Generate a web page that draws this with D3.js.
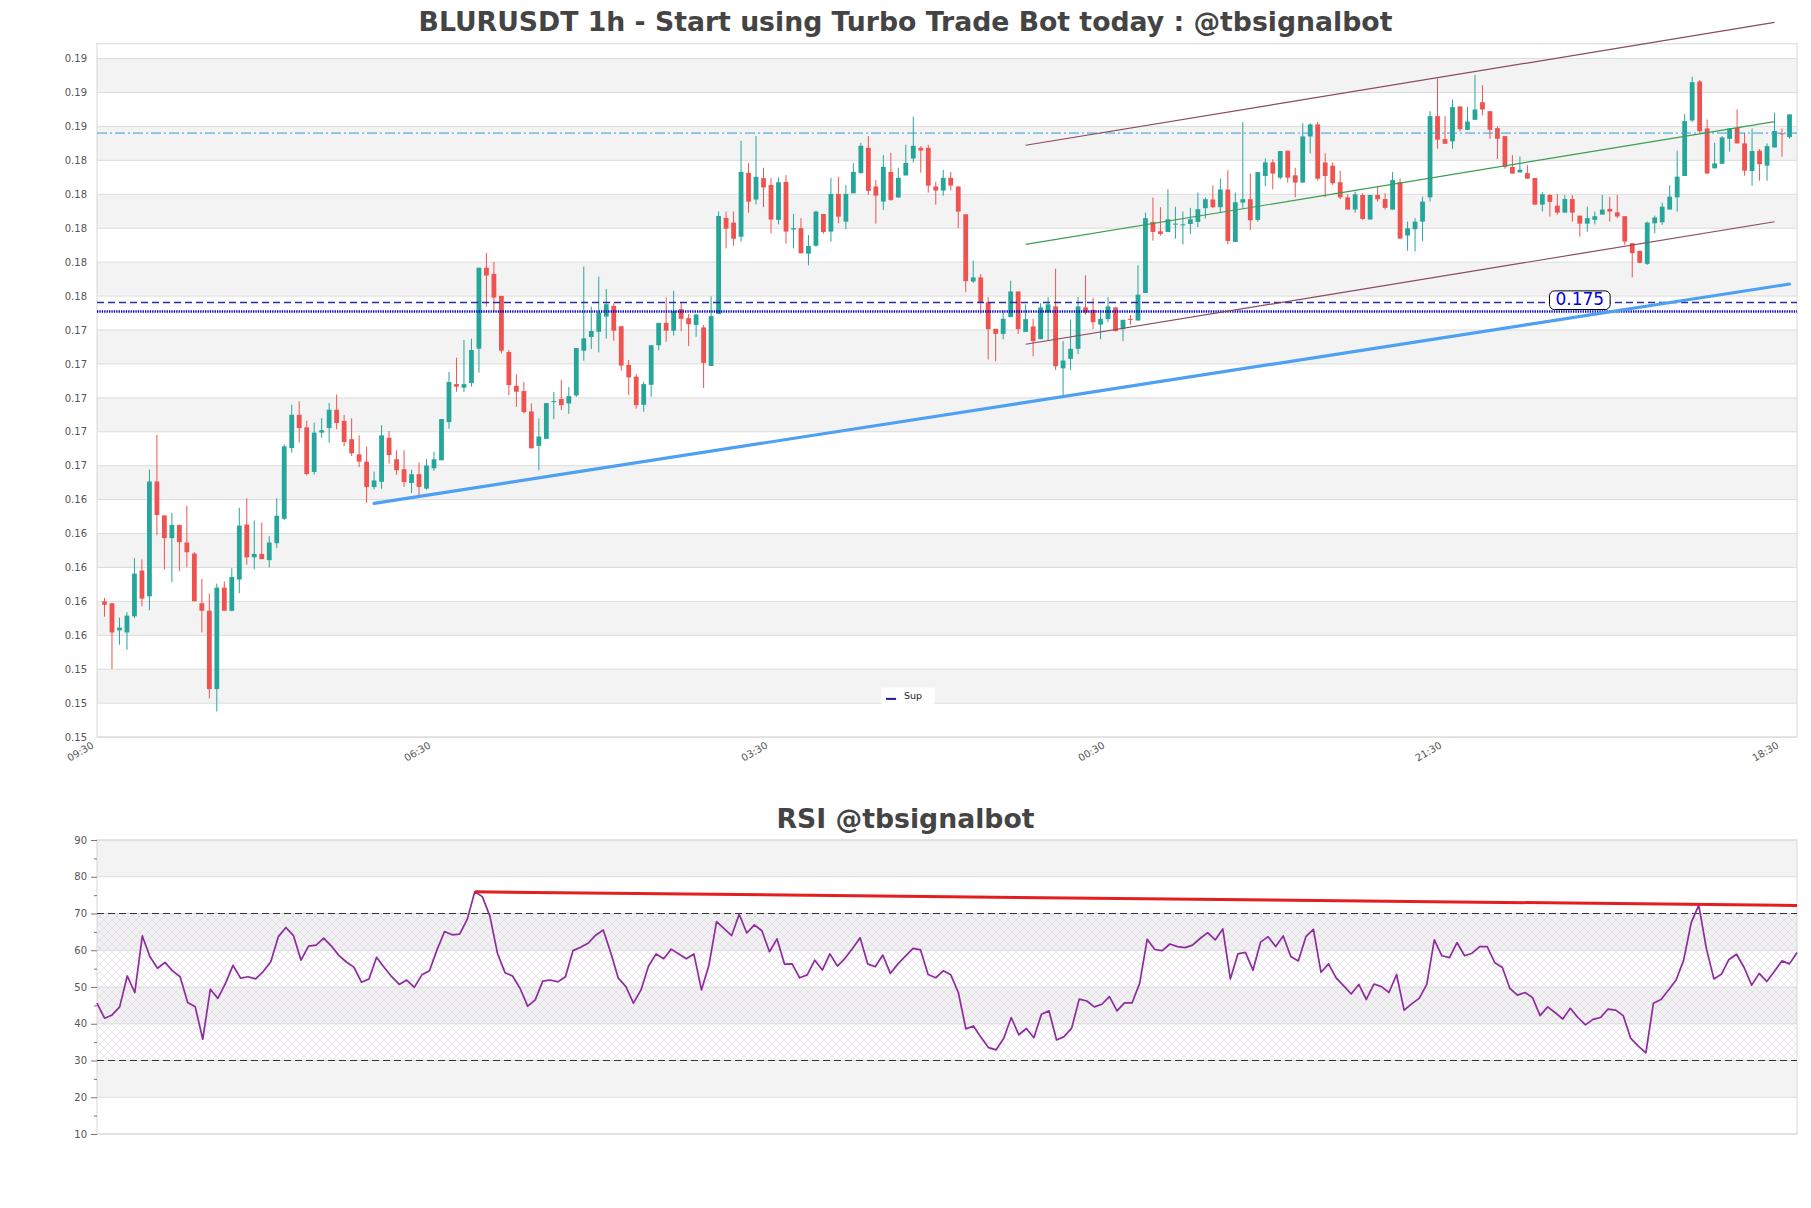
<!DOCTYPE html>
<html><head><meta charset="utf-8">
<script src="https://cdn.jsdelivr.net/npm/d3@7"></script>
<style>
html,body{margin:0;padding:0;background:#fff;}
svg{display:block;font-family:"DejaVu Sans",sans-serif;}
</style></head><body>
<svg id="chart" width="1811" height="1208"></svg>
<script>
// ---------------- DATA ----------------
const titleText = "BLURUSDT 1h - Start using Turbo Trade Bot today : @tbsignalbot";
const rsiTitleText = "RSI @tbsignalbot";
const timeLabels = ["09:30","06:30","03:30","00:30","21:30","18:30"];
const timeTickIdx = [-1,44,89,134,179,224];
const priceTicks = [0.150,0.152,0.154,0.156,0.158,0.160,0.162,0.164,0.166,0.168,0.170,0.172,0.174,0.176,0.178,0.180,0.182,0.184,0.186,0.188,0.190];
const rsiTicks = [10,20,30,40,50,60,70,80,90];
const rsiMinorTicks = [15,25,35,45,55,65,75,85];

const opens = [0.1580,0.15789,0.15629,0.15617,0.15712,0.15982,0.15830,0.16507,0.16307,0.16173,
0.16251,0.16147,0.16082,0.15789,0.15745,0.15283,0.15881,0.15745,0.15929,0.16253,
0.16060,0.16080,0.16043,0.16143,0.16287,0.16704,0.16900,0.16826,0.16563,0.16795,
0.16822,0.16930,0.16864,0.16756,0.16667,0.16624,0.16474,0.16505,0.16765,0.16638,
0.16579,0.16498,0.16550,0.16465,0.16585,0.16632,0.16857,0.17081,0.17060,0.17087,
0.17290,0.17767,0.17731,0.17601,0.17270,0.17071,0.17040,0.16920,0.16717,0.16758,
0.16977,0.16993,0.16967,0.17014,0.17278,0.17359,0.17390,0.17479,0.17542,0.17422,
0.17194,0.17125,0.16959,0.17077,0.17310,0.17442,0.17396,0.17523,0.17470,0.17430,
0.17415,0.17188,0.17495,0.18061,0.18033,0.17950,0.18326,0.18169,0.18295,0.18255,
0.18049,0.18273,0.17992,0.18000,0.17850,0.17897,0.18084,0.17980,0.18202,0.18039,
0.18206,0.18326,0.18474,0.18246,0.18157,0.18332,0.18181,0.18311,0.18411,0.18474,
0.18474,0.18246,0.18222,0.18297,0.18246,0.18082,0.17686,0.17710,0.17564,0.17407,
0.17377,0.17476,0.17627,0.17389,0.17421,0.17346,0.17503,0.17539,0.17174,0.17230,
0.17289,0.17533,0.17519,0.17432,0.17464,0.17533,0.17405,0.17466,0.17456,0.17618,
0.18037,0.17982,0.17978,0.18023,0.18019,0.18025,0.18037,0.18118,0.18169,0.18124,
0.18228,0.17919,0.18151,0.18171,0.18049,0.18308,0.18388,0.18298,0.18457,0.18312,
0.18269,0.18541,0.18612,0.18388,0.18369,0.18271,0.18182,0.18110,0.18196,0.18051,
0.18196,0.18172,0.18110,0.18271,0.17957,0.17994,0.18039,0.18182,0.18661,0.18525,
0.18512,0.18718,0.18580,0.18639,0.18743,0.18690,0.18590,0.18543,0.18361,0.18329,
0.18325,0.18296,0.18139,0.18196,0.18133,0.18092,0.18172,0.18074,0.18027,0.18049,
0.18080,0.18114,0.18094,0.18071,0.17912,0.17867,0.17790,0.18029,0.18035,0.18110,
0.18182,0.18308,0.18635,0.18865,0.18588,0.18353,0.18380,0.18527,0.18592,0.18500,
0.18337,0.18457,0.18369,0.18476,0.18559,0.18537];

const highs = [0.1582,0.1579,0.15704,0.15736,0.16055,0.16047,0.16578,0.16781,0.16307,0.16322,
0.16251,0.16364,0.16090,0.15932,0.15846,0.15905,0.15917,0.15995,0.16352,0.16407,
0.16277,0.16265,0.16185,0.16407,0.16726,0.16960,0.16980,0.16864,0.16854,0.16880,
0.16970,0.17020,0.16900,0.16880,0.16779,0.16712,0.16565,0.16838,0.16805,0.16691,
0.16691,0.16577,0.16619,0.16638,0.16682,0.16875,0.17152,0.17237,0.17341,0.17349,
0.17767,0.17855,0.17802,0.17601,0.17282,0.17138,0.17093,0.16967,0.16879,0.16969,
0.17034,0.17105,0.17064,0.17294,0.17774,0.17538,0.17715,0.17642,0.17558,0.17422,
0.17223,0.17140,0.17095,0.17310,0.17442,0.17593,0.17631,0.17562,0.17495,0.17495,
0.17430,0.17598,0.18098,0.18098,0.18098,0.18515,0.18383,0.18543,0.18356,0.18295,
0.18299,0.18313,0.18084,0.18059,0.17960,0.18104,0.18084,0.18297,0.18303,0.18255,
0.18383,0.18504,0.18543,0.18285,0.18431,0.18444,0.18356,0.18492,0.18657,0.18484,
0.18492,0.18273,0.18344,0.18332,0.18246,0.18082,0.17808,0.17730,0.17594,0.17407,
0.17515,0.17690,0.17627,0.17551,0.17466,0.17558,0.17594,0.17761,0.17334,0.17462,
0.17594,0.17722,0.17590,0.17519,0.17594,0.17533,0.17460,0.17488,0.17781,0.18092,
0.18181,0.18124,0.18230,0.18127,0.18098,0.18120,0.18210,0.18181,0.18253,0.18293,
0.18342,0.18210,0.18626,0.18323,0.18331,0.18412,0.18406,0.18455,0.18457,0.18355,
0.18618,0.18618,0.18627,0.18441,0.18388,0.18339,0.18200,0.18216,0.18206,0.18196,
0.18245,0.18206,0.18331,0.18294,0.18039,0.18059,0.18186,0.18690,0.18882,0.18661,
0.18759,0.18718,0.18714,0.18904,0.18843,0.18690,0.18600,0.18543,0.18431,0.18422,
0.18372,0.18296,0.18212,0.18200,0.18200,0.18196,0.18196,0.18074,0.18127,0.18098,
0.18196,0.18186,0.18196,0.18071,0.17912,0.17867,0.18039,0.18074,0.18151,0.18253,
0.18457,0.18673,0.18892,0.18873,0.18641,0.18504,0.18543,0.18588,0.18700,0.18563,
0.18588,0.18467,0.18500,0.18682,0.18588,0.18671];

const lows = [0.1571,0.15401,0.15545,0.15515,0.15700,0.15771,0.15747,0.16190,0.15988,0.15913,
0.15978,0.16001,0.15801,0.15617,0.15228,0.15151,0.15745,0.15741,0.15848,0.16017,
0.15990,0.16049,0.16001,0.16114,0.16279,0.16677,0.16736,0.16543,0.16547,0.16765,
0.16736,0.16815,0.16716,0.16657,0.16592,0.16381,0.16460,0.16464,0.16612,0.16546,
0.16475,0.16439,0.16424,0.16459,0.16569,0.16632,0.16818,0.17036,0.17036,0.17066,
0.17148,0.17538,0.17507,0.17262,0.17016,0.16947,0.16908,0.16699,0.16573,0.16758,
0.16875,0.16928,0.16906,0.17006,0.17219,0.17288,0.17268,0.17349,0.17337,0.17160,
0.17016,0.16936,0.16918,0.17006,0.17280,0.17331,0.17367,0.17393,0.17306,0.17360,
0.17058,0.17188,0.17495,0.17881,0.17897,0.17921,0.18092,0.18141,0.18124,0.17970,
0.18023,0.17909,0.17881,0.17852,0.17781,0.17891,0.17968,0.17921,0.18029,0.17994,
0.18206,0.18320,0.18196,0.18027,0.18108,0.18161,0.18181,0.18311,0.18387,0.18328,
0.18210,0.18139,0.18192,0.18222,0.18000,0.17623,0.17677,0.17495,0.17226,0.17216,
0.17346,0.17476,0.17377,0.17389,0.17245,0.17346,0.17338,0.17165,0.17007,0.17165,
0.17259,0.17490,0.17405,0.17346,0.17446,0.17393,0.17334,0.17432,0.17456,0.17618,
0.17927,0.17956,0.17978,0.17938,0.17905,0.17966,0.18007,0.18057,0.18118,0.18096,
0.17905,0.17919,0.18116,0.17990,0.18039,0.18249,0.18229,0.18288,0.18269,0.18182,
0.18269,0.18441,0.18280,0.18182,0.18255,0.18172,0.18110,0.18092,0.18049,0.18051,
0.18157,0.18110,0.18110,0.17939,0.17867,0.17863,0.17925,0.18157,0.18469,0.18498,
0.18469,0.18571,0.18580,0.18639,0.18665,0.18527,0.18408,0.18351,0.18322,0.18329,
0.18292,0.18139,0.18098,0.18069,0.18080,0.18092,0.18039,0.17951,0.17980,0.18023,
0.18080,0.18039,0.18059,0.17902,0.17710,0.17794,0.17784,0.17971,0.18020,0.18110,
0.18098,0.18308,0.18625,0.18563,0.18320,0.18353,0.18380,0.18451,0.18500,0.18310,
0.18251,0.18280,0.18280,0.18476,0.18422,0.18529];

const closes = [0.1578,0.15617,0.15645,0.15716,0.15964,0.15816,0.16507,0.16309,0.16173,0.16251,
0.16149,0.16090,0.15801,0.15745,0.15283,0.15881,0.15745,0.15944,0.16247,0.16060,
0.16080,0.16049,0.16147,0.16305,0.16714,0.16900,0.16822,0.16551,0.16795,0.16809,
0.16930,0.16852,0.16740,0.16673,0.16624,0.16474,0.16513,0.16779,0.16663,0.16573,
0.16504,0.16550,0.16475,0.16601,0.16638,0.16875,0.17093,0.17066,0.17081,0.17282,
0.17767,0.17721,0.17591,0.17278,0.17075,0.17036,0.16916,0.16703,0.16772,0.16969,
0.16981,0.16957,0.17010,0.17294,0.17351,0.17394,0.17503,0.17552,0.17396,0.17190,
0.17121,0.16957,0.17081,0.17310,0.17442,0.17396,0.17513,0.17466,0.17434,0.17491,
0.17206,0.17482,0.18072,0.17997,0.17938,0.18332,0.18157,0.18303,0.18240,0.18051,
0.18271,0.17980,0.18000,0.17852,0.17895,0.18098,0.17978,0.18202,0.18068,0.18202,
0.18332,0.18486,0.18220,0.18192,0.18362,0.18167,0.18297,0.18385,0.18486,0.18458,
0.18251,0.18222,0.18297,0.18251,0.18098,0.17688,0.17710,0.17564,0.17405,0.17377,
0.17466,0.17627,0.17405,0.17464,0.17334,0.17533,0.17551,0.17186,0.17220,0.17289,
0.17539,0.17503,0.17446,0.17466,0.17539,0.17393,0.17460,0.17460,0.17608,0.18059,
0.17978,0.17966,0.18053,0.18027,0.18023,0.18053,0.18112,0.18171,0.18124,0.18228,
0.17925,0.18153,0.18171,0.18047,0.18331,0.18388,0.18322,0.18455,0.18298,0.18269,
0.18541,0.18612,0.18292,0.18308,0.18265,0.18182,0.18110,0.18200,0.18055,0.18196,
0.18171,0.18120,0.18284,0.17939,0.18000,0.18039,0.18157,0.18661,0.18522,0.18498,
0.18714,0.18584,0.18629,0.18700,0.18700,0.18580,0.18527,0.18361,0.18322,0.18345,
0.18292,0.18139,0.18200,0.18155,0.18092,0.18172,0.18092,0.18027,0.18059,0.18071,
0.18110,0.18098,0.18069,0.17921,0.17853,0.17796,0.18033,0.18063,0.18127,0.18186,
0.18304,0.18631,0.18861,0.18571,0.18323,0.18382,0.18535,0.18588,0.18500,0.18339,
0.18455,0.18378,0.18484,0.18573,0.18553,0.18671];

const rsi = [45.6,41.5,42.4,44.6,53.0,48.5,63.9,58.3,55.1,56.7,
54.4,52.8,45.8,44.6,35.8,49.4,46.9,51.0,55.9,52.4,
52.8,52.2,54.2,56.9,63.7,66.2,64.0,57.3,61.1,61.4,
63.3,61.2,58.6,56.8,55.4,51.3,52.2,58.1,55.4,52.8,
50.7,51.9,49.9,53.3,54.4,60.1,65.1,64.2,64.4,68.4,
75.9,74.6,69.3,59.2,53.9,53.0,49.6,44.8,46.5,51.6,
51.9,51.4,52.8,59.9,60.8,61.9,64.1,65.5,59.3,52.4,
50.1,45.6,49.2,55.7,59.0,57.7,60.3,59.0,57.7,59.0,
49.2,56.0,67.8,65.9,64.0,69.8,64.7,66.9,65.3,59.6,
63.1,56.2,56.3,52.5,53.3,57.3,54.6,59.0,55.7,57.8,
60.5,63.4,56.3,55.5,58.7,53.7,56.3,58.4,60.5,60.1,
53.4,52.5,54.4,53.3,48.5,38.6,39.4,36.3,33.5,32.9,
36.0,41.7,37.0,38.7,36.2,42.6,43.5,35.6,36.5,38.8,
46.7,46.2,44.6,45.3,47.4,43.5,45.7,45.7,51.0,63.0,
60.2,59.9,61.7,61.0,60.7,61.4,63.2,64.8,62.8,65.8,
52.2,59.0,59.4,54.6,62.2,63.7,61.0,63.9,58.3,57.1,
63.7,65.7,54.0,56.3,52.5,50.3,48.1,50.7,46.6,50.8,
50.1,48.5,53.4,43.7,45.4,46.9,50.7,62.8,58.5,58.0,
62.1,58.5,59.2,61.0,61.0,56.6,55.3,49.6,47.8,48.5,
47.1,42.2,44.6,43.0,41.3,44.2,41.7,39.7,41.2,41.7,
44.0,43.7,42.2,36.0,33.9,32.1,45.6,46.6,49.2,51.9,
57.3,67.5,72.3,60.5,52.2,53.5,57.5,58.9,55.3,50.5,
53.7,51.5,54.2,57.1,56.3,59.4];

// trend / level annotations (index, value)
const supportIdx = [36, 225];
const supportVal = [0.16378, 0.17671];
const channelIdx = [123, 223];
const channelUpper = [0.18489, 0.19213];
const channelMid = [0.17905, 0.18628];
const channelLower = [0.17316, 0.18038];
const levelCyan = 0.18561;
const levelDashed = 0.17562;
const levelSup = 0.17509;
const supLabelText = "0.175";
const supLabelIdx = 197;
const legendLabels = ["Sup"];
const rsiTrendIdx = [50, 225];
const rsiTrendVal = [75.9, 72.2];
const rsiLevels = [70, 30];
const rsiZone = [30, 70];

// ---------------- LAYOUT ----------------
const svg = d3.select("#chart");
const P = {l:97, r:1797, t:43.8, b:737.1};
const Q = {t:840, b:1134};
const FONT = "DejaVu Sans";

const x = d3.scaleLinear().domain([-1, 226]).range([P.l, P.r]);
const y = d3.scaleLinear().domain([0.150, 0.190872]).range([P.b, P.t]);
const xr = d3.scaleLinear().domain([0, rsi.length - 1]).range([P.l, P.r]);
const yr = d3.scaleLinear().domain([10, 90]).range([Q.b, Q.t]);

// ---------------- MAIN PANEL ----------------
const main = svg.append("g");
main.selectAll("rect.band").data(d3.pairs(priceTicks)).join("rect")
  .attr("class","band")
  .attr("x", P.l).attr("width", P.r - P.l)
  .attr("y", d => y(d[1])).attr("height", d => y(d[0]) - y(d[1]))
  .attr("fill", (d,k) => k % 2 === 1 ? "#f3f3f3" : "#ffffff");
main.selectAll("line.grid").data(priceTicks).join("line")
  .attr("class","grid")
  .attr("x1", P.l).attr("x2", P.r)
  .attr("y1", d => y(d)).attr("y2", d => y(d))
  .attr("stroke", "#dcdcdc").attr("stroke-width", 1);
main.append("rect").attr("x", P.l).attr("y", P.t).attr("width", P.r - P.l).attr("height", P.b - P.t)
  .attr("fill", "none").attr("stroke", "#d8d8d8").attr("stroke-width", 1);

const candles = opens.map((o, i) => ({i, o, h: highs[i], l: lows[i], c: closes[i]}));
const UP = "#26a69a", DN = "#ef5350";
const bw = (x(1) - x(0)) * 0.64;
const cg = main.append("g");
cg.selectAll("line").data(candles).join("line")
  .attr("x1", d => x(d.i)).attr("x2", d => x(d.i))
  .attr("y1", d => y(d.h)).attr("y2", d => y(d.l))
  .attr("stroke", d => d.c >= d.o ? UP : DN).attr("stroke-width", 1);
cg.selectAll("rect").data(candles).join("rect")
  .attr("x", d => x(d.i) - bw / 2).attr("width", bw)
  .attr("y", d => y(Math.max(d.o, d.c)))
  .attr("height", d => Math.max(1, Math.abs(y(d.o) - y(d.c))))
  .attr("fill", d => d.c >= d.o ? UP : DN);

// horizontal levels
function hline(v, color, w, dash) {
  main.append("line").attr("x1", P.l).attr("x2", P.r).attr("y1", y(v)).attr("y2", y(v))
    .attr("stroke", color).attr("stroke-width", w).attr("stroke-dasharray", dash);
}
hline(levelCyan, "#2f9fd3", 1, "10,3,2,3");
hline(levelDashed, "#2b2ba6", 1.4, "7,4");
hline(levelSup, "#0000c8", 2.6, "1.3,1.1");

// channel + support
const seg = d3.line().x(d => x(d[0])).y(d => y(d[1]));
main.append("path").attr("d", seg(d3.zip(channelIdx, channelUpper))).attr("stroke", "#8b4a5e").attr("stroke-width", 1.2).attr("fill", "none");
main.append("path").attr("d", seg(d3.zip(channelIdx, channelMid))).attr("stroke", "#3a9e52").attr("stroke-width", 1.2).attr("fill", "none");
main.append("path").attr("d", seg(d3.zip(channelIdx, channelLower))).attr("stroke", "#8b4a5e").attr("stroke-width", 1.2).attr("fill", "none");
main.append("path").attr("d", seg(d3.zip(supportIdx, supportVal))).attr("stroke", "#4da0f2").attr("stroke-width", 3.2).attr("fill", "none").attr("stroke-linecap", "round");

// 0.175 label
const lblG = main.append("g");
const lblCx = x(supLabelIdx), lblBottom = y(levelSup) - 2;
const lblText = lblG.append("text").attr("x", lblCx).attr("y", lblBottom - 4.5)
  .attr("text-anchor", "middle").attr("font-family", FONT).attr("font-size", 17).attr("fill", "#0000dd").text(supLabelText);
const bb = lblText.node().getBBox();
lblG.insert("rect", "text").attr("x", bb.x - 6).attr("y", lblBottom - 18.6).attr("width", bb.width + 12).attr("height", 18.6)
  .attr("rx", 5).attr("fill", "#fff").attr("stroke", "#000").attr("stroke-width", 1);

// legend
const lg = main.append("g").attr("transform", `translate(${(x(106) + x(107)) / 2 - 21}, ${y(0.1524) - 9})`);
lg.append("rect").attr("x", 0).attr("y", 0).attr("width", 54).attr("height", 17.3).attr("rx", 3).attr("fill", "#fff").attr("fill-opacity", 0.9);
lg.append("line").attr("x1", 5).attr("x2", 15).attr("y1", 11.5).attr("y2", 11.5).attr("stroke", "#1a1aa0").attr("stroke-width", 2);
lg.append("text").attr("x", 23).attr("y", 12).attr("font-family", FONT).attr("font-size", 9.5).attr("fill", "#222").text(legendLabels[0]);

// axes main
const ya = svg.append("g").attr("transform", `translate(${P.l},0)`)
  .call(d3.axisLeft(y).tickValues(priceTicks).tickFormat(d3.format(".2f")).tickSize(0).tickPadding(10));
ya.select(".domain").remove();
ya.selectAll("text").attr("fill", "#555").attr("font-size", 10).attr("font-family", FONT);

const xa = svg.append("g").attr("transform", `translate(0,${P.b})`)
  .call(d3.axisBottom(x).tickValues(timeTickIdx).tickFormat((d, k) => timeLabels[k]).tickSize(0));
xa.select(".domain").remove();
xa.selectAll("text").attr("y", 0).attr("dy", "0.72em").attr("text-anchor", "end")
  .attr("transform", "translate(-6.5,4) rotate(-30)")
  .attr("fill", "#555").attr("font-size", 10).attr("font-family", FONT);

// ---------------- RSI PANEL ----------------
const defs = svg.append("defs");
const pat = defs.append("pattern").attr("id", "hatch").attr("patternUnits", "userSpaceOnUse").attr("width", 8).attr("height", 8);
pat.append("path").attr("d", "M0,0L8,8M8,0L0,8").attr("stroke", "#c4b4d2").attr("stroke-width", 0.5).attr("fill", "none");

const rp = svg.append("g");
const rsiBands = d3.pairs(rsiTicks);
rp.selectAll("rect.band").data(rsiBands).join("rect")
  .attr("x", P.l).attr("width", P.r - P.l)
  .attr("y", d => yr(d[1])).attr("height", d => yr(d[0]) - yr(d[1]))
  .attr("fill", (d, k) => k % 2 === 1 ? "#f3f3f3" : "#ffffff");
rp.append("rect").attr("x", P.l).attr("width", P.r - P.l)
  .attr("y", yr(rsiZone[1])).attr("height", yr(rsiZone[0]) - yr(rsiZone[1]))
  .attr("fill", "#8a3a9a").attr("fill-opacity", 0.012);
rp.append("rect").attr("x", P.l).attr("width", P.r - P.l)
  .attr("y", yr(rsiZone[1])).attr("height", yr(rsiZone[0]) - yr(rsiZone[1]))
  .attr("fill", "url(#hatch)").attr("opacity", 0.6);
rp.selectAll("line.grid").data(rsiTicks).join("line")
  .attr("x1", P.l).attr("x2", P.r).attr("y1", d => yr(d)).attr("y2", d => yr(d))
  .attr("stroke", "#dcdcdc").attr("stroke-width", 1);
rp.append("rect").attr("x", P.l).attr("y", Q.t).attr("width", P.r - P.l).attr("height", Q.b - Q.t)
  .attr("fill", "none").attr("stroke", "#d8d8d8").attr("stroke-width", 1);
rp.selectAll("line.lvl").data(rsiLevels).join("line")
  .attr("x1", P.l).attr("x2", P.r).attr("y1", d => yr(d)).attr("y2", d => yr(d))
  .attr("stroke", "#333").attr("stroke-width", 1.1).attr("stroke-dasharray", "7,4");
rp.append("path").datum(rsi)
  .attr("d", d3.line().x((d, j) => xr(j)).y(d => yr(d)))
  .attr("fill", "none").attr("stroke", "#8e2c9e").attr("stroke-width", 1.7).attr("stroke-linejoin", "round");
rp.append("path").datum(d3.zip(rsiTrendIdx, rsiTrendVal))
  .attr("d", d3.line().x(d => xr(d[0])).y(d => yr(d[1])))
  .attr("fill", "none").attr("stroke", "#e41e1e").attr("stroke-width", 3);

const ra = svg.append("g").attr("transform", `translate(${P.l},0)`)
  .call(d3.axisLeft(yr).tickValues(rsiTicks).tickFormat(d3.format("d")).tickSize(6).tickPadding(4));
ra.select(".domain").remove();
ra.selectAll("line").attr("stroke", "#777");
ra.selectAll("text").attr("fill", "#555").attr("font-size", 10).attr("font-family", FONT);
const rm = svg.append("g").attr("transform", `translate(${P.l},0)`)
  .call(d3.axisLeft(yr).tickValues(rsiMinorTicks).tickFormat("").tickSize(3));
rm.select(".domain").remove();
rm.selectAll("line").attr("stroke", "#777");

// ---------------- TITLES ----------------
svg.append("text").attr("x", 905.5).attr("y", 31).attr("text-anchor", "middle")
  .attr("font-family", FONT).attr("font-weight", "bold").attr("font-size", 26.7).attr("fill", "#444").text(titleText);
svg.append("text").attr("x", 905.5).attr("y", 827.5).attr("text-anchor", "middle")
  .attr("font-family", FONT).attr("font-weight", "bold").attr("font-size", 26.7).attr("fill", "#444").text(rsiTitleText);
</script>
</body></html>
